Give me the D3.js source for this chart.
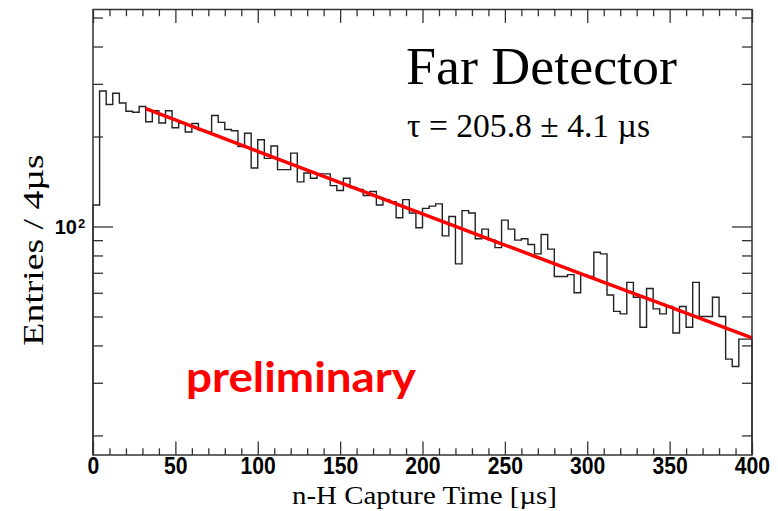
<!DOCTYPE html>
<html><head><meta charset="utf-8">
<script src="https://cdn.jsdelivr.net/npm/d3@7"></script>
<style>body{margin:0;background:#fff;} svg{display:block}</style>
</head><body>
<svg id="c" width="778" height="511"></svg>
<script>
// ---- data ----
const binWidth = 4;                     // µs per bin
const binStarts = d3.range(0, 400, binWidth);
const counts = [
 118,284,256,279,259,243,241,252,224,244,
 222,244,214,222,207,221,210,207,235,223,
 211,209,185,205,157,195,169,186,155,155,
 176,141,151,145,150,150,137,132,145,135,
 133,127,131,118,123,121,107,123,111,99,
 115,117,119,93,108,75,113,111,91,98,
 90,85,105,98,90,91,87,81,94,84,
 68,68,69,60,69,68,82,81,59,52,
 51,65,58,46,62,53,51,54,44,54,
 46,65,50,50,58,50,36,34,42,42
];
const fitT   = [32, 100, 150, 200, 250, 300, 350, 400];
const fitVal = [247.7, 178.3, 140.2, 110.2, 86.7, 68.2, 53.8, 42.4];
const xMajor = [0, 50, 100, 150, 200, 250, 300, 350, 400];
const xMinor = d3.range(0, 401, 10).filter(v => v % 50 !== 0);
const yMajor = [100];
const yMinor = [20, 30, 40, 50, 60, 70, 80, 90, 200, 300, 400, 500];
const xDomain = [0, 400];
const yDomain = [17.2, 532];

// ---- layout ----
const L = 93, R = 752, T = 9.5, B = 455;
const svg = d3.select("#c");
const x = d3.scaleLinear().domain(xDomain).range([L, R]);
const y = d3.scaleLog().domain(yDomain).range([B, T]);

const axisColor = "#333";
const sans = "'Liberation Sans', Arial, sans-serif";
function styleAxis(g){
  g.select(".domain").remove();
  g.selectAll(".tick line").attr("stroke", axisColor).attr("stroke-width", 1.3);
}
// bottom
svg.append("g").attr("transform",`translate(0,${B})`)
  .call(d3.axisBottom(x).tickValues(xMinor).tickSize(-6.7).tickFormat(""))
  .call(styleAxis);
const bx = svg.append("g").attr("transform",`translate(0,${B})`)
  .call(d3.axisBottom(x).tickValues(xMajor).tickSize(-13.4).tickFormat(d3.format("d")))
  .call(styleAxis);
bx.selectAll("text").attr("y", 18.5).attr("dy", 0)
  .attr("transform","scale(0.92,1)")
  .attr("font-family", sans).attr("font-weight","bold")
  .attr("font-size", 23).attr("fill","#000");
// top
svg.append("g").attr("transform",`translate(0,${T})`)
  .call(d3.axisTop(x).tickValues(xMinor).tickSize(-6.7).tickFormat("")).call(styleAxis);
svg.append("g").attr("transform",`translate(0,${T})`)
  .call(d3.axisTop(x).tickValues(xMajor).tickSize(-13.4).tickFormat("")).call(styleAxis);
// left
svg.append("g").attr("transform",`translate(${L},0)`)
  .call(d3.axisLeft(y).tickValues(yMinor).tickSize(-10).tickFormat("")).call(styleAxis);
svg.append("g").attr("transform",`translate(${L},0)`)
  .call(d3.axisLeft(y).tickValues(yMajor).tickSize(-20).tickFormat("")).call(styleAxis);
// right
svg.append("g").attr("transform",`translate(${R},0)`)
  .call(d3.axisRight(y).tickValues(yMinor).tickSize(-10).tickFormat("")).call(styleAxis);
svg.append("g").attr("transform",`translate(${R},0)`)
  .call(d3.axisRight(y).tickValues(yMajor).tickSize(-20).tickFormat("")).call(styleAxis);

// 10^2 label
yMajor.forEach(v => {
  const yy = y(v);
  svg.append("text").attr("x", 77).attr("y", yy + 8).attr("text-anchor","end")
    .attr("font-family", sans).attr("font-weight","bold")
    .attr("font-size", 20).text("10");
  svg.append("text").attr("x", 78).attr("y", yy + 1.5)
    .attr("font-family", sans).attr("font-weight","bold")
    .attr("font-size", 13).text(String(Math.round(Math.log10(v))));
});

// histogram step outline
const pts = [[x(binStarts[0]), B]];
counts.forEach((c, i) => {
  pts.push([x(binStarts[i]), y(c)]);
  pts.push([x(binStarts[i] + binWidth), y(c)]);
});
pts.push([x(binStarts[binStarts.length-1] + binWidth), B]);
svg.append("path").attr("d", d3.line()(pts))
  .attr("fill","none").attr("stroke","#222").attr("stroke-width",1.4);

// fit curve
svg.append("path")
  .attr("d", d3.line().x((d,i)=>x(fitT[i])).y((d,i)=>y(fitVal[i]))(fitT))
  .attr("fill","none").attr("stroke","#ff0000").attr("stroke-width",3.5);

// frame
svg.append("rect").attr("x",L).attr("y",T).attr("width",R-L).attr("height",B-T)
  .attr("fill","none").attr("stroke",axisColor).attr("stroke-width",1.5);

// titles
const serif = "'Liberation Serif','Times New Roman',serif";
svg.append("text").attr("x", 424.5).attr("y", 504).attr("text-anchor","middle")
  .attr("font-family", serif).attr("font-size", 26)
  .attr("textLength", 265).attr("lengthAdjust","spacingAndGlyphs")
  .text("n-H Capture Time [µs]");
svg.append("text").attr("transform","translate(43,250) rotate(-90) scale(1.3,1)").attr("text-anchor","middle")
  .attr("font-family", serif).attr("font-size", 29)
  .text("Entries / 4µs");
svg.append("text").attr("x", 406).attr("y", 84)
  .attr("font-family", serif).attr("font-size", 53)
  .attr("textLength", 271).attr("lengthAdjust","spacingAndGlyphs")
  .text("Far Detector");
svg.append("text").attr("x", 407).attr("y", 137)
  .attr("font-family", serif).attr("font-size", 33.5)
  .attr("textLength", 243).attr("lengthAdjust","spacingAndGlyphs")
  .text("τ = 205.8 ± 4.1 µs");
svg.append("text").attr("x", 186).attr("y", 392)
  .attr("font-family","Lato, 'Open Sans', sans-serif").attr("font-weight","bold")
  .attr("font-size", 42).attr("fill","#ff0000")
  .attr("textLength", 230).attr("lengthAdjust","spacingAndGlyphs").text("preliminary");
</script>
</body></html>
